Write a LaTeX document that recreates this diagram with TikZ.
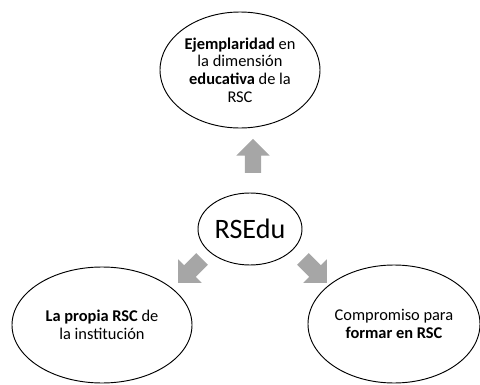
\documentclass[tikz,border=0pt]{standalone}
\usepackage{fontspec}
\setmainfont{Carlito}
\usetikzlibrary{shapes.geometric,shapes.arrows}

\tikzset{
    bubble/.style={draw, line width=0.8pt, ellipse, inner sep=0pt, align=center, font=\fontsize{14}{15}\selectfont},
    blockarrow/.style={single arrow, fill=gray!70, draw=none, inner sep=2.4mm, minimum height=10.2mm,
        single arrow head extend=2.55mm, anchor=center}
}

\begin{document}
\begin{tikzpicture}[x=0.3mm, y=-0.3mm]
    \useasboundingbox (0,0) rectangle (480,385);
    % ellipses
    \node[bubble, minimum width=48mm, minimum height=34.8mm] (top) at (240,70)
        {\textbf{Ejemplaridad} en\\la dimensión\\\textbf{educativa} de la\\RSC};
    \node[bubble, minimum width=31.2mm, minimum height=21.6mm, font=\fontsize{24}{28}\selectfont] (core) at (250,229) {RSEdu};
    \node[bubble, minimum width=54mm, minimum height=34.8mm] (left) at (102,325)
        {\textbf{La propia RSC} de\\la institución};
    \node[bubble, minimum width=51.6mm, minimum height=35.4mm] (right) at (394,324)
        {Compromiso para\\\textbf{formar en RSC}};
    % arrows
    \foreach \pos/\ang in {{(253,160)}/90, {(193,268)}/225, {(312,268)}/-45}
        \node[blockarrow, rotate=\ang] at \pos {};
\end{tikzpicture}
\end{document}
